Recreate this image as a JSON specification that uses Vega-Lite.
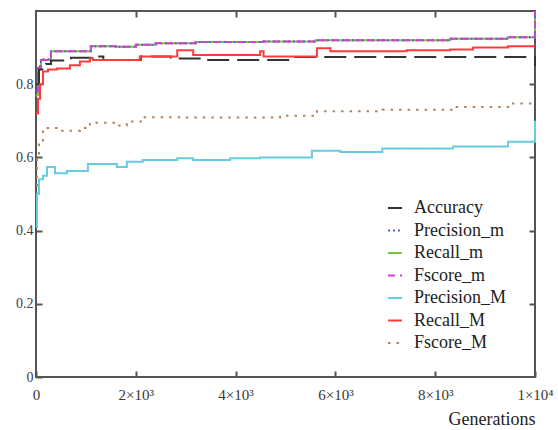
{
  "$schema": "https://vega.github.io/schema/vega-lite/v6.json",
  "autosize": {"type": "none"},
  "padding": {"left": 36, "top": 11, "right": 23, "bottom": 52},
  "width": 499,
  "height": 366,
  "background": "white",
  "config": {
    "view": {"stroke": "#555555", "strokeWidth": 2},
    "font": "Liberation Serif, DejaVu Serif, serif"
  },
  "data": {
    "values": [
      {"s": "Recall_m", "g": 0, "v": 0.77}, {"s": "Recall_m", "g": 40, "v": 0.84}, {"s": "Recall_m", "g": 100, "v": 0.866}, {"s": "Recall_m", "g": 300, "v": 0.89}, {"s": "Recall_m", "g": 1100, "v": 0.904}, {"s": "Recall_m", "g": 1600, "v": 0.902}, {"s": "Recall_m", "g": 2000, "v": 0.908}, {"s": "Recall_m", "g": 2400, "v": 0.912}, {"s": "Recall_m", "g": 3200, "v": 0.915}, {"s": "Recall_m", "g": 4550, "v": 0.917}, {"s": "Recall_m", "g": 5600, "v": 0.92}, {"s": "Recall_m", "g": 8300, "v": 0.924}, {"s": "Recall_m", "g": 9450, "v": 0.928}, {"s": "Recall_m", "g": 10000, "v": 1.0},
      {"s": "Precision_m", "g": 0, "v": 0.79}, {"s": "Precision_m", "g": 40, "v": 0.85}, {"s": "Precision_m", "g": 100, "v": 0.868}, {"s": "Precision_m", "g": 300, "v": 0.89}, {"s": "Precision_m", "g": 1100, "v": 0.904}, {"s": "Precision_m", "g": 1600, "v": 0.902}, {"s": "Precision_m", "g": 2000, "v": 0.908}, {"s": "Precision_m", "g": 2400, "v": 0.912}, {"s": "Precision_m", "g": 3200, "v": 0.915}, {"s": "Precision_m", "g": 4550, "v": 0.917}, {"s": "Precision_m", "g": 5600, "v": 0.92}, {"s": "Precision_m", "g": 8300, "v": 0.924}, {"s": "Precision_m", "g": 9450, "v": 0.928}, {"s": "Precision_m", "g": 10000, "v": 1.0},
      {"s": "Fscore_m", "g": 0, "v": 0.78}, {"s": "Fscore_m", "g": 40, "v": 0.845}, {"s": "Fscore_m", "g": 100, "v": 0.866}, {"s": "Fscore_m", "g": 300, "v": 0.89}, {"s": "Fscore_m", "g": 1100, "v": 0.904}, {"s": "Fscore_m", "g": 1600, "v": 0.902}, {"s": "Fscore_m", "g": 2000, "v": 0.908}, {"s": "Fscore_m", "g": 2400, "v": 0.912}, {"s": "Fscore_m", "g": 3200, "v": 0.915}, {"s": "Fscore_m", "g": 4550, "v": 0.917}, {"s": "Fscore_m", "g": 5600, "v": 0.92}, {"s": "Fscore_m", "g": 8300, "v": 0.924}, {"s": "Fscore_m", "g": 9450, "v": 0.928}, {"s": "Fscore_m", "g": 10000, "v": 1.0},
      {"s": "Accuracy", "g": 0, "v": 0.8}, {"s": "Accuracy", "g": 60, "v": 0.84}, {"s": "Accuracy", "g": 200, "v": 0.855}, {"s": "Accuracy", "g": 300, "v": 0.865}, {"s": "Accuracy", "g": 700, "v": 0.872}, {"s": "Accuracy", "g": 1100, "v": 0.876}, {"s": "Accuracy", "g": 1350, "v": 0.866}, {"s": "Accuracy", "g": 2100, "v": 0.876}, {"s": "Accuracy", "g": 2700, "v": 0.87}, {"s": "Accuracy", "g": 3350, "v": 0.866}, {"s": "Accuracy", "g": 5100, "v": 0.874}, {"s": "Accuracy", "g": 9990, "v": 0.874}, {"s": "Accuracy", "g": 10000, "v": 0.85},
      {"s": "Fscore_M", "g": 0, "v": 0.5}, {"s": "Fscore_M", "g": 20, "v": 0.6}, {"s": "Fscore_M", "g": 60, "v": 0.64}, {"s": "Fscore_M", "g": 140, "v": 0.68}, {"s": "Fscore_M", "g": 480, "v": 0.673}, {"s": "Fscore_M", "g": 880, "v": 0.68}, {"s": "Fscore_M", "g": 1080, "v": 0.695}, {"s": "Fscore_M", "g": 1620, "v": 0.687}, {"s": "Fscore_M", "g": 1820, "v": 0.698}, {"s": "Fscore_M", "g": 2140, "v": 0.71}, {"s": "Fscore_M", "g": 2950, "v": 0.709}, {"s": "Fscore_M", "g": 4890, "v": 0.714}, {"s": "Fscore_M", "g": 5630, "v": 0.726}, {"s": "Fscore_M", "g": 6940, "v": 0.73}, {"s": "Fscore_M", "g": 8360, "v": 0.738}, {"s": "Fscore_M", "g": 9460, "v": 0.747}, {"s": "Fscore_M", "g": 10000, "v": 0.747},
      {"s": "Precision_M", "g": 0, "v": 0.41}, {"s": "Precision_M", "g": 20, "v": 0.5}, {"s": "Precision_M", "g": 60, "v": 0.54}, {"s": "Precision_M", "g": 140, "v": 0.55}, {"s": "Precision_M", "g": 220, "v": 0.574}, {"s": "Precision_M", "g": 380, "v": 0.557}, {"s": "Precision_M", "g": 620, "v": 0.563}, {"s": "Precision_M", "g": 1040, "v": 0.582}, {"s": "Precision_M", "g": 1620, "v": 0.574}, {"s": "Precision_M", "g": 1820, "v": 0.588}, {"s": "Precision_M", "g": 2140, "v": 0.593}, {"s": "Precision_M", "g": 2830, "v": 0.598}, {"s": "Precision_M", "g": 3150, "v": 0.593}, {"s": "Precision_M", "g": 3890, "v": 0.598}, {"s": "Precision_M", "g": 4490, "v": 0.6}, {"s": "Precision_M", "g": 5530, "v": 0.618}, {"s": "Precision_M", "g": 6100, "v": 0.615}, {"s": "Precision_M", "g": 6940, "v": 0.624}, {"s": "Precision_M", "g": 8360, "v": 0.63}, {"s": "Precision_M", "g": 9460, "v": 0.643}, {"s": "Precision_M", "g": 10000, "v": 0.7},
      {"s": "Recall_M", "g": 0, "v": 0.72}, {"s": "Recall_M", "g": 40, "v": 0.76}, {"s": "Recall_M", "g": 80, "v": 0.8}, {"s": "Recall_M", "g": 140, "v": 0.835}, {"s": "Recall_M", "g": 240, "v": 0.84}, {"s": "Recall_M", "g": 420, "v": 0.843}, {"s": "Recall_M", "g": 680, "v": 0.852}, {"s": "Recall_M", "g": 880, "v": 0.862}, {"s": "Recall_M", "g": 1080, "v": 0.871}, {"s": "Recall_M", "g": 1140, "v": 0.866}, {"s": "Recall_M", "g": 2080, "v": 0.876}, {"s": "Recall_M", "g": 2830, "v": 0.893}, {"s": "Recall_M", "g": 3150, "v": 0.88}, {"s": "Recall_M", "g": 4490, "v": 0.89}, {"s": "Recall_M", "g": 4560, "v": 0.876}, {"s": "Recall_M", "g": 5630, "v": 0.898}, {"s": "Recall_M", "g": 5900, "v": 0.89}, {"s": "Recall_M", "g": 7430, "v": 0.893}, {"s": "Recall_M", "g": 8300, "v": 0.895}, {"s": "Recall_M", "g": 8760, "v": 0.9}, {"s": "Recall_M", "g": 9460, "v": 0.904}, {"s": "Recall_M", "g": 10000, "v": 0.904}
    ]
  },
  "layer": [
    {
      "mark": {"type": "line", "interpolate": "step-after", "strokeWidth": 2},
      "encoding": {
        "x": {
          "field": "g", "type": "quantitative",
          "scale": {"domain": [0, 10000], "nice": false, "zero": false},
          "axis": {
            "orient": "bottom", "values": [0, 2000, 4000, 6000, 8000, 10000],
            "labelExpr": "datum.value == 0 ? '0' : datum.value == 10000 ? '1×10⁴' : (datum.value / 1000) + '×10³'",
            "domain": false, "grid": false, "tickSize": -6, "tickColor": "#555555", "tickWidth": 2,
            "labelFont": "Liberation Serif, DejaVu Serif, serif", "labelFontSize": 15, "labelColor": "#3a3530",
            "labelFlush": false, "labelOverlap": false, "labelPadding": 16, "labelDx": 3,
            "title": "Generations", "titleFont": "Liberation Serif, DejaVu Serif, serif", "titleFontSize": 18, "titleFontWeight": "normal",
            "titleColor": "#222222", "titleAnchor": "end", "titleAlign": "right", "titlePadding": 8
          }
        },
        "y": {
          "field": "v", "type": "quantitative",
          "scale": {"domain": [0, 1], "nice": false},
          "axis": {
            "orient": "left", "values": [0, 0.2, 0.4, 0.6, 0.8],
            "labelExpr": "datum.value == 0 ? '0' : format(datum.value, '.1f')",
            "domain": false, "grid": false, "tickSize": -6, "tickColor": "#555555", "tickWidth": 2,
            "labelFont": "Liberation Serif, DejaVu Serif, serif", "labelFontSize": 14, "labelColor": "#3a4050",
            "labelPadding": 9, "title": null
          }
        },
        "color": {
          "field": "s", "type": "nominal",
          "scale": {
            "domain": ["Accuracy", "Precision_m", "Recall_m", "Fscore_m", "Precision_M", "Recall_M", "Fscore_M"],
            "range": ["#333333", "#5a5ad0", "#77c83a", "#cc44cc", "#66cce0", "#ff3b3b", "#b5835a"]
          },
          "legend": {
            "title": null, "orient": "none", "legendX": 350, "legendY": 188,
            "symbolType": "stroke", "symbolSize": 196, "symbolStrokeWidth": 2,
            "labelFont": "Liberation Serif, DejaVu Serif, serif", "labelFontSize": 18, "labelColor": "#222222",
            "labelOffset": 10, "rowPadding": 4.5, "padding": 0
          }
        },
        "strokeDash": {
          "field": "s", "type": "nominal",
          "scale": {
            "domain": ["Accuracy", "Precision_m", "Recall_m", "Fscore_m", "Precision_M", "Recall_M", "Fscore_M"],
            "range": [[22, 8], [2, 3], [1, 0], [7, 5], [1, 0], [1, 0], [2.5, 6]]
          },
          "legend": {
            "title": null, "orient": "none", "legendX": 350, "legendY": 188,
            "symbolType": "stroke", "symbolSize": 196, "symbolStrokeWidth": 2,
            "labelFont": "Liberation Serif, DejaVu Serif, serif", "labelFontSize": 18, "labelColor": "#222222",
            "labelOffset": 10, "rowPadding": 4.5, "padding": 0
          }
        }
      }
    },
    {
      "mark": {"type": "point", "opacity": 0},
      "encoding": {
        "x": {
          "field": "g", "type": "quantitative",
          "axis": {"orient": "top", "values": [2000, 4000, 6000, 8000], "labels": false, "domain": false, "grid": false,
                   "tickSize": -6, "tickColor": "#555555", "tickWidth": 2, "title": null}
        },
        "y": {
          "field": "v", "type": "quantitative",
          "axis": {"orient": "right", "values": [0.2, 0.4, 0.6, 0.8], "labels": false, "domain": false, "grid": false,
                   "tickSize": -6, "tickColor": "#555555", "tickWidth": 2, "title": null}
        }
      }
    }
  ],
  "resolve": {"axis": {"x": "independent", "y": "independent"}}
}
